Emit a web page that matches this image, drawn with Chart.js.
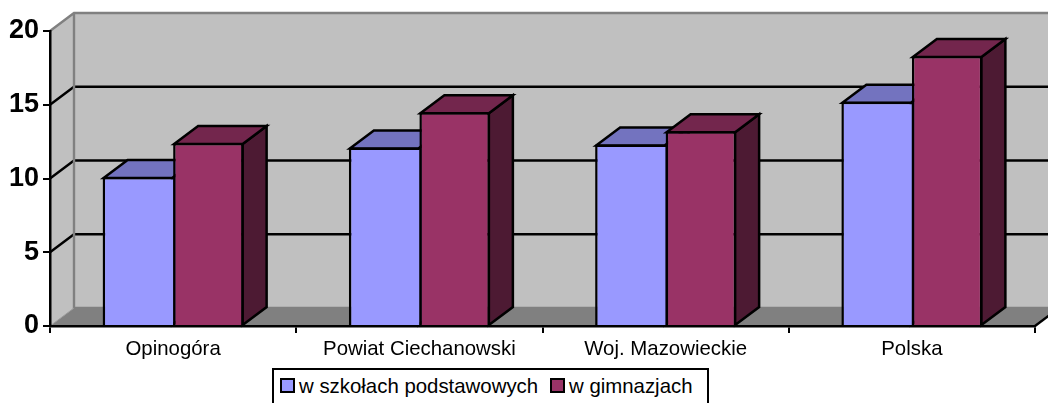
<!DOCTYPE html>
<html>
<head>
<meta charset="utf-8">
<title>Chart</title>
<script src="https://cdn.jsdelivr.net/npm/chart.js@4"></script>
<style>
    html, body { margin: 0; padding: 0; background: #fff; overflow: hidden; width: 1048px; height: 403px; }
    #wrap { position: relative; width: 1048px; height: 403px; overflow: hidden; }
    canvas { display: block; }
    #legend {
        position: absolute; left: 272px; top: 368px; width: 433px; height: 50px;
        border: 2.5px solid #000; background: #fff;
        font: 20.4px "Liberation Sans", Arial, sans-serif; color: #000;
    }
    #legend span { position: absolute; top: 5px; white-space: nowrap; line-height: 23px; }
    #legend i { position: absolute; top: 8px; width: 11px; height: 11px; border: 2px solid #000; }
</style>
</head>
<body>
<div id="wrap">
    <canvas id="myChart" width="1048" height="403"></canvas>
    <div id="legend"></div>
</div>
<script>
const categories = ['Opinogóra', 'Powiat Ciechanowski', 'Woj. Mazowieckie', 'Polska'];
const seriesNames = ['w szkołach podstawowych', 'w gimnazjach'];
const primary = [10.1, 12.1, 12.3, 15.2];
const lowerSecondary = [12.4, 14.5, 13.2, 18.3];
const yTicks = [0, 5, 10, 15, 20];

const frontColors = ['#9999FF', '#993366'];
const topColors = ['#7373BF', '#73264D'];
const sideColors = ['#4D4D80', '#4D1A33'];
const legendX = [[6, 25], [276, 295]];

// depth of the fake 3d box
const depthX = 24;
const depthY = 18;

function poly(ctx, pts, fill, stroke, lw) {
    ctx.beginPath();
    pts.forEach(function (p, i) {
        if (i === 0) ctx.moveTo(p[0], p[1]);
        else ctx.lineTo(p[0], p[1]);
    });
    ctx.closePath();
    if (fill) {
        ctx.fillStyle = fill;
        ctx.fill();
    }
    if (stroke) {
        ctx.strokeStyle = stroke;
        ctx.lineWidth = lw;
        ctx.stroke();
    }
}

const box3d = {
    id: 'box3d',
    // walls and floor go under the axes
    beforeDraw: function (chart) {
        const ctx = chart.ctx;
        const a = chart.chartArea;
        const y = chart.scales.y;
        ctx.save();
        ctx.lineJoin = 'miter';
        // back wall
        poly(ctx, [[a.left + depthX, a.top - depthY], [a.right + depthX, a.top - depthY],
            [a.right + depthX, a.bottom - depthY], [a.left + depthX, a.bottom - depthY]], '#C0C0C0');
        // left wall
        poly(ctx, [[a.left, a.top], [a.left + depthX, a.top - depthY],
            [a.left + depthX, a.bottom - depthY], [a.left, a.bottom]], '#C0C0C0');
        // floor
        poly(ctx, [[a.left, a.bottom], [a.right, a.bottom],
            [a.right + depthX, a.bottom - depthY], [a.left + depthX, a.bottom - depthY]], '#808080');

        // grid lines on the walls
        ctx.strokeStyle = '#000';
        ctx.lineWidth = 2.4;
        yTicks.forEach(function (t) {
            if (t === 0 || t === 20) return;
            const py = y.getPixelForValue(t);
            ctx.beginPath();
            ctx.moveTo(a.left, py);
            ctx.lineTo(a.left + depthX, py - depthY);
            ctx.lineTo(a.right + depthX, py - depthY);
            ctx.stroke();
        });

        // grey edges
        ctx.strokeStyle = '#808080';
        ctx.lineWidth = 2.4;
        ctx.beginPath();
        ctx.moveTo(a.left, a.top);
        ctx.lineTo(a.left + depthX, a.top - depthY);
        ctx.lineTo(a.right + depthX, a.top - depthY);
        ctx.moveTo(a.left + depthX, a.top - depthY);
        ctx.lineTo(a.left + depthX, a.bottom - depthY);
        ctx.lineTo(a.right + depthX, a.bottom - depthY);
        ctx.stroke();
        ctx.strokeStyle = '#9A9A9A';
        ctx.lineWidth = 1;
        ctx.beginPath();
        ctx.moveTo(a.left, a.bottom);
        ctx.lineTo(a.left + depthX, a.bottom - depthY);
        ctx.stroke();

        // front right edge of the floor
        ctx.strokeStyle = '#000';
        ctx.lineWidth = 2.4;
        ctx.beginPath();
        ctx.moveTo(a.right, a.bottom);
        ctx.lineTo(a.right + depthX, a.bottom - depthY);
        ctx.stroke();
        ctx.restore();
    },
    // top and side of every bar, the front comes from chart.js
    beforeDatasetsDraw: function (chart) {
        const ctx = chart.ctx;
        ctx.save();
        ctx.lineJoin = 'miter';
        chart.data.datasets.forEach(function (ds, i) {
            chart.getDatasetMeta(i).data.forEach(function (bar) {
                const l = bar.x - bar.width / 2;
                const r = bar.x + bar.width / 2;
                const t = bar.y;
                const b = bar.base;
                const lw = 2.5;
                poly(ctx, [[r - 1, t + 1], [r + depthX - 1, t - depthY + 1], [r + depthX - 1, b - depthY], [r - 1, b]], sideColors[i], '#000', lw);
                poly(ctx, [[l + 1, t + 1], [l + depthX + 1, t - depthY + 1], [r + depthX - 1, t - depthY + 1], [r - 1, t + 1]], topColors[i], '#000', lw);
            });
        });
        ctx.restore();
    }
};

const ctx = document.getElementById('myChart');

const myChart = new Chart(ctx, {
    type: 'bar',
    data: {
        labels: categories,
        datasets: [{
            label: seriesNames[0],
            data: primary,
            backgroundColor: frontColors[0],
            borderColor: '#000',
            borderSkipped: false,
            inflateAmount: 0,
            borderWidth: { top: 2.5, left: 2.5, right: 0, bottom: 0 }
        }, {
            label: seriesNames[1],
            data: lowerSecondary,
            backgroundColor: frontColors[1],
            borderColor: '#000',
            borderSkipped: false,
            inflateAmount: 0,
            borderWidth: { top: 2.5, left: 2.5, right: 2.5, bottom: 0 }
        }]
    },
    options: {
        responsive: false,
        animation: false,
        layout: { padding: { top: 31, right: 13, left: 0, bottom: 0 } },
        datasets: { bar: { categoryPercentage: 0.5726, barPercentage: 1 } },
        scales: {
            x: {
                afterFit: function (scale) { scale.height = 77; },
                border: { color: '#000', width: 2.5, z: 1 },
                grid: { drawOnChartArea: false, color: '#000', tickColor: '#000', tickLength: 7, lineWidth: 2 },
                ticks: {
                    color: '#000',
                    padding: 4,
                    maxRotation: 0,
                    autoSkip: false,
                    font: { family: '"Liberation Sans", Arial, sans-serif', size: 20.4 }
                }
            },
            y: {
                min: 0,
                max: 20,
                afterFit: function (scale) { scale.width = 50; },
                afterBuildTicks: function (scale) {
                    scale.ticks = yTicks.map(function (v) { return { value: v }; });
                },
                border: { color: '#000', width: 2.5, z: 1 },
                grid: { drawOnChartArea: false, color: '#000', tickColor: '#000', tickLength: 7, lineWidth: 2 },
                ticks: {
                    color: '#000',
                    padding: 4,
                    font: { family: '"Liberation Sans", Arial, sans-serif', size: 27, weight: 'bold' }
                }
            }
        },
        plugins: {
            legend: { display: false },
            tooltip: { enabled: false }
        }
    },
    plugins: [box3d]
});

// legend box sits below the axis labels, same as the original
const legendEl = document.getElementById('legend');
seriesNames.forEach(function (name, i) {
    const sw = document.createElement('i');
    sw.style.left = legendX[i][0] + 'px';
    sw.style.background = frontColors[i];
    legendEl.appendChild(sw);
    const tx = document.createElement('span');
    tx.style.left = legendX[i][1] + 'px';
    tx.textContent = name;
    legendEl.appendChild(tx);
});
</script>
</body>
</html>
